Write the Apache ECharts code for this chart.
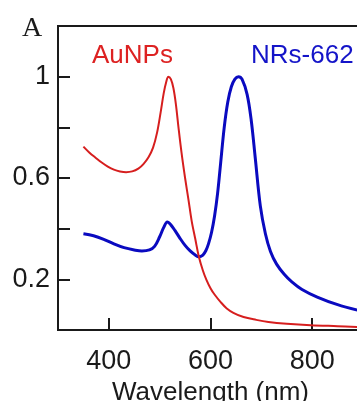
<!DOCTYPE html>
<html>
<head>
<meta charset="utf-8">
<script src="https://cdn.jsdelivr.net/npm/echarts@6/dist/echarts.min.js"></script>
<style>
html,body{margin:0;padding:0;background:#fff;}
#c{width:357px;height:401px;}
</style>
</head>
<body>
<div id="c"></div>
<script>
// Wavelength (nm) and normalized absorbance
const auWave = [350,362,374,386,398,410,422,434,446,458,468,478,487,495,502,508,513,517,522,527,532,537,543,550,557,563,570,577,585,592,600,608,620,632,645,665,690,714,750,797,850,889];
const auAbs  = [0.724,0.700,0.680,0.661,0.645,0.633,0.626,0.623,0.626,0.637,0.655,0.682,0.72,0.78,0.86,0.935,0.98,1.0,0.99,0.955,0.89,0.80,0.70,0.60,0.51,0.43,0.36,0.29,0.235,0.198,0.165,0.14,0.11,0.085,0.068,0.051,0.040,0.032,0.025,0.019,0.015,0.012];

const nrWave = [350,370,390,410,430,450,465,480,490,500,508,515,522,530,540,550,560,570,577,585,591,596,602,608,614,620,627,634,641,648,655,662,672,680,688,698,708,718,730,745,760,780,810,850,890];
const nrAbs  = [0.380,0.372,0.358,0.340,0.325,0.316,0.312,0.316,0.330,0.368,0.405,0.426,0.415,0.393,0.362,0.334,0.312,0.296,0.289,0.296,0.314,0.34,0.385,0.45,0.54,0.66,0.80,0.90,0.96,0.99,1.0,0.99,0.93,0.83,0.68,0.49,0.38,0.31,0.26,0.22,0.19,0.16,0.13,0.10,0.078];

const xTicks = [400,600,800];
const yTicks = [0.2,0.4,0.6,0.8,1.0];
const yLabels = [0.2,0.6,1];

const seriesNames = ['AuNPs','NRs-662'];
const xTitle = 'Wavelength (nm)';
const panelLetter = 'A';

const toPairs = (xs, ys) => xs.map((x, i) => [x, ys[i]]);

const chart = echarts.init(document.getElementById('c'), null, {renderer:'canvas'});
const font = 'Liberation Sans, Arial, sans-serif';
const ink = '#1a1a1a';

chart.setOption({
  animation: false,
  backgroundColor: '#fff',
  grid: {left: 58, top: 26, right: -6, bottom: 71, containLabel: false, outerBoundsMode: 'none',
         show: true, borderColor: ink, borderWidth: 2, backgroundColor: 'transparent'},
  xAxis: {
    type: 'value', min: 300, max: 900,
    axisLine: {show: true, lineStyle: {color: ink, width: 2}},
    axisTick: {show: true, inside: true, length: 12, customValues: xTicks, lineStyle: {color: ink, width: 2}},
    axisLabel: {customValues: xTicks, color: ink, fontSize: 27, fontFamily: font, margin: 18},
    splitLine: {show: false},
    name: xTitle, nameLocation: 'middle', nameGap: 50,
    nameTextStyle: {color: ink, fontSize: 26, fontFamily: font}
  },
  yAxis: {
    type: 'value', min: 0, max: 1.2, interval: 0.2,
    axisLine: {show: true, lineStyle: {color: ink, width: 2}},
    axisTick: {show: true, inside: true, length: 12, customValues: yTicks, lineStyle: {color: ink, width: 2}},
    axisLabel: {customValues: yLabels, color: ink, fontSize: 27, fontFamily: font, margin: 8,
      formatter: v => String(Math.round(v*10)/10)},
    splitLine: {show: false}
  },
  series: [
    {name: seriesNames[0], type: 'line', data: toPairs(auWave, auAbs), showSymbol: false, smooth: 0.35,
     lineStyle: {color: '#d61e1e', width: 2}, z: 3},
    {name: seriesNames[1], type: 'line', data: toPairs(nrWave, nrAbs), showSymbol: false, smooth: 0.35,
     lineStyle: {color: '#0a0ac0', width: 3}, z: 2}
  ],
  graphic: [
    {type: 'text', left: 22, top: 15, style: {text: panelLetter, font: '28px "Liberation Serif", "Times New Roman", serif', fill: ink}},
    {type: 'text', left: 92, top: 43, style: {text: seriesNames[0], font: '26px ' + font, fill: '#dd2222'}},
    {type: 'text', left: 251, top: 43, style: {text: seriesNames[1], font: '26px ' + font, fill: '#1414c8'}}
  ]
});
</script>
</body>
</html>
